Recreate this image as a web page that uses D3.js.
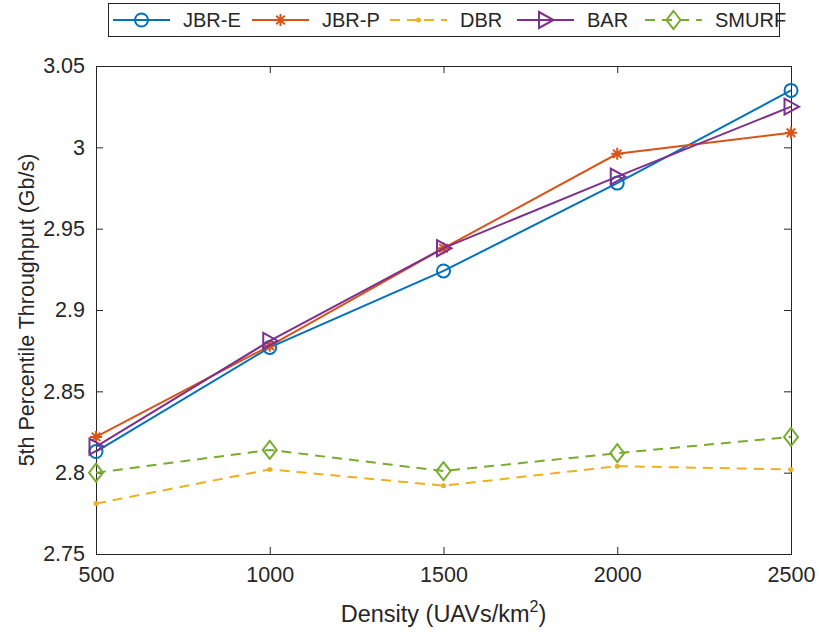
<!DOCTYPE html>
<html>
<head>
<meta charset="utf-8">
<script src="https://cdn.jsdelivr.net/npm/d3@7"></script>
<style>
  html, body { margin: 0; padding: 0; background: #fff; }
  svg { display: block; font-family: "Liberation Sans", Arial, Helvetica, sans-serif; }
</style>
</head>
<body>
<svg id="chart" width="819" height="635"></svg>
<script>
// UAV density (x axis)
const densities = [500, 1000, 1500, 2000, 2500];

// 5th percentile throughput (Gb/s) per scheme
const jbrE  = [2.813, 2.877, 2.924, 2.978, 3.035];
const jbrP  = [2.822, 2.878, 2.938, 2.996, 3.009];
const dbr   = [2.781, 2.802, 2.792, 2.804, 2.802];
const bar   = [2.816, 2.881, 2.938, 2.982, 3.025];
const smurf = [2.800, 2.814, 2.801, 2.812, 2.822];

const xTicks = [500, 1000, 1500, 2000, 2500];
const yTicks = [2.75, 2.8, 2.85, 2.9, 2.95, 3, 3.05];

const series = [
  { name: "JBR-E", values: jbrE,  color: "#0072BD", dash: null,   marker: "circle" },
  { name: "JBR-P", values: jbrP,  color: "#D95319", dash: null,   marker: "asterisk" },
  { name: "DBR",   values: dbr,   color: "#EDB120", dash: "10,7", marker: "dot" },
  { name: "BAR",   values: bar,   color: "#7E2F8E", dash: null,   marker: "triangle" },
  { name: "SMURF", values: smurf, color: "#77AC30", dash: "10,7", marker: "diamond" }
];

const svg = d3.select("#chart");
const m = { left: 96, right: 791, top: 66, bottom: 554 };
const axisColor = "#262626";

const x = d3.scaleLinear().domain([500, 2500]).range([m.left, m.right]);
const y = d3.scaleLinear().domain([2.75, 3.05]).range([m.bottom, m.top]);

const fmt = v => d3.format("")(+v.toFixed(2));

// axes: ticks pointing inward, box on all four sides
const tickLen = 7;
const gx = svg.append("g").attr("transform", `translate(0,${m.bottom})`)
  .call(d3.axisBottom(x).tickValues(xTicks).tickSize(-tickLen).tickPadding(13).tickFormat(d3.format("d")));
const gxTop = svg.append("g").attr("transform", `translate(0,${m.top})`)
  .call(d3.axisTop(x).tickValues(xTicks).tickSize(-tickLen).tickFormat(""));
const gy = svg.append("g").attr("transform", `translate(${m.left},0)`)
  .call(d3.axisLeft(y).tickValues(yTicks).tickSize(-tickLen).tickPadding(11).tickFormat(fmt));
const gyR = svg.append("g").attr("transform", `translate(${m.right},0)`)
  .call(d3.axisRight(y).tickValues(yTicks).tickSize(-tickLen).tickFormat(""));

[gx, gxTop, gy, gyR].forEach(g => {
  g.select(".domain").attr("stroke", axisColor).attr("stroke-width", 1);
  g.selectAll(".tick line").attr("stroke", axisColor).attr("stroke-width", 1);
  g.selectAll(".tick text").attr("fill", axisColor).style("font-size", "21.5px")
    .style("font-family", "'Liberation Sans', Arial, sans-serif");
});

// axis labels
const xl = svg.append("text")
  .attr("x", (m.left + m.right) / 2).attr("y", 622)
  .attr("text-anchor", "middle").attr("fill", axisColor)
  .style("font-size", "23.5px");
xl.append("tspan").text("Density (UAVs/km");
xl.append("tspan").attr("dy", -10).style("font-size", "16px").text("2");
xl.append("tspan").attr("dy", 10).text(")");

svg.append("text")
  .attr("transform", `translate(34,${(m.top + m.bottom) / 2}) rotate(-90)`)
  .attr("text-anchor", "middle").attr("fill", axisColor)
  .style("font-size", "21.5px")
  .text("5th Percentile Throughput (Gb/s)");

// marker drawing
function drawMarker(g, type, color, cx, cy) {
  if (type === "circle") {
    g.append("circle").attr("cx", cx).attr("cy", cy).attr("r", 6.5)
      .attr("fill", "none").attr("stroke", color).attr("stroke-width", 2);
  } else if (type === "asterisk") {
    const r = 6;
    const p = [];
    for (let k = 0; k < 4; k++) {
      const a = k * Math.PI / 4;
      p.push(`M${cx - r * Math.cos(a)},${cy - r * Math.sin(a)}L${cx + r * Math.cos(a)},${cy + r * Math.sin(a)}`);
    }
    g.append("path").attr("d", p.join("")).attr("stroke", color).attr("stroke-width", 2).attr("fill", "none");
  } else if (type === "dot") {
    g.append("circle").attr("cx", cx).attr("cy", cy).attr("r", 2.5).attr("fill", color);
  } else if (type === "triangle") {
    g.append("path")
      .attr("d", `M${cx - 6.5},${cy - 8}L${cx + 8},${cy}L${cx - 6.5},${cy + 8}Z`)
      .attr("fill", "none").attr("stroke", color).attr("stroke-width", 2).attr("stroke-linejoin", "miter");
  } else if (type === "diamond") {
    g.append("path")
      .attr("d", `M${cx},${cy - 9}L${cx + 7},${cy}L${cx},${cy + 9}L${cx - 7},${cy}Z`)
      .attr("fill", "none").attr("stroke", color).attr("stroke-width", 2);
  }
}

const line = d3.line().x((d, i) => x(densities[i])).y(d => y(d));
const plot = svg.append("g");

series.forEach(s => {
  plot.append("path").datum(s.values)
    .attr("d", line)
    .attr("fill", "none").attr("stroke", s.color).attr("stroke-width", 2)
    .attr("stroke-dasharray", s.dash);
  const mg = plot.append("g");
  s.values.forEach((v, i) => drawMarker(mg, s.marker, s.color, x(densities[i]), y(v)));
});

// legend
const legend = svg.append("g");
legend.append("rect").attr("x", 108.5).attr("y", 3.5).attr("width", 671).attr("height", 33)
  .attr("fill", "#fff").attr("stroke", axisColor).attr("stroke-width", 1);
const legendX = [113, 252, 390, 517, 645];
series.forEach((s, i) => {
  const lx = legendX[i], ly = 20;
  legend.append("line").attr("x1", lx).attr("x2", lx + 57).attr("y1", ly).attr("y2", ly)
    .attr("stroke", s.color).attr("stroke-width", 2).attr("stroke-dasharray", s.dash);
  drawMarker(legend, s.marker, s.color, lx + 28.5, ly);
  legend.append("text").attr("x", lx + 70).attr("y", ly + 7)
    .attr("fill", axisColor).style("font-size", "20px").text(s.name);
});
</script>
</body>
</html>
